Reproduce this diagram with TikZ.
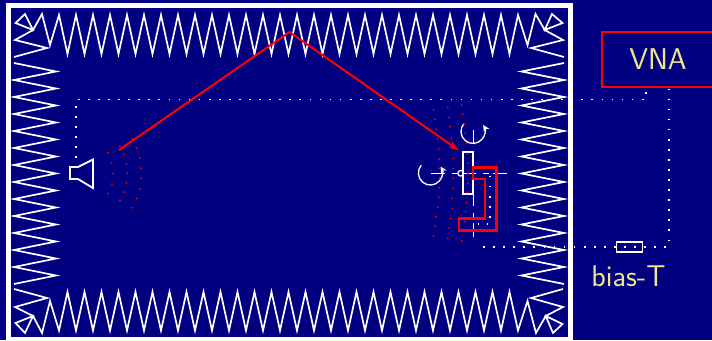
\documentclass[tikz,border=0pt]{standalone}
\usetikzlibrary{arrows.meta}
\definecolor{bgnavy}{HTML}{000080}
\definecolor{lab}{HTML}{F0E68C}
\tikzset{
  zig/.style={draw=white,line width=1.7pt},
  dots/.style={draw=white,line width=1.7pt,dash pattern=on 1.7pt off 8.37pt},
  guide/.style={draw=red,line width=2.4pt},
  ray/.style={draw=red,line width=2pt},
  axisline/.style={draw=white,line width=1.2pt,dash pattern=on 14pt off 7pt on 6pt off 4pt},
  rot/.style={draw=white,line width=1.3pt,-{Stealth[length=6.5pt,width=6.5pt]}},
  wl/.style={font=\fontsize{30}{32}\selectfont\sffamily,text=lab,inner sep=0pt,outer sep=0pt},
  rd/.style={fill=red}
}
\begin{document}
\begin{tikzpicture}[x=1pt,y=-1pt]
\useasboundingbox (0,0) rectangle (712,340);
\clip (0,0) rectangle (712,340);
\fill[bgnavy] (0,0) rectangle (712,340);
% chamber wall
\draw[white,line width=5pt] (8,5.5) rectangle (570,339.5);
% absorbers
\draw[zig] (14,57)--(47,48)--(15,40)--(33,30)--(15.5,23)--(25,14)--(33,30)--(42,14)--(50,45)--(59,15)
  \foreach \k in {0,...,26}{ --({67.5+17*\k},54) --({76+17*\k},15)}
  --(527.5,45)--(535.5,14)--(544.7,30)--(552,14)--(562.5,23)--(544.7,30)--(563,40)--(531,48)--(564,57);
\draw[zig] (14,289)--(47,298)--(15,307)--(33,316)--(15.5,323)--(25,333)--(33,316)--(42,333)--(50,301)
  \foreach \k in {0,...,26}{ --({59+17*\k},330.5) --({67.5+17*\k},292)}
  --(518,330.5)--(527.5,301)--(536,333)--(545.7,316)--(553,333)--(562.5,324)--(545.7,316)--(563,307)--(531,298)--(563,289);
\draw[zig] (14,63) \foreach \k in {0,...,12}{ --(56,{71.5+17*\k}) --(14,{80+17*\k})};
\draw[zig] (564,63) \foreach \k in {0,...,12}{ --(521.5,{71.5+17*\k}) --(564,{80+17*\k})};
% instruments
\node[guide,minimum width=112pt,minimum height=55pt,inner sep=0pt,outer sep=0pt,wl] (vna) at (658,59.5) {VNA};
\node[draw=white,line width=1.6pt,minimum width=26pt,minimum height=9.5pt,inner sep=0pt,outer sep=0pt] (biast) at (629.5,247) {};
\node[wl,anchor=base] (biaslabel) at (628.5,286) {bias-T};
% horn
\coordinate (hornfeed) at (76,158);
\draw[white,line width=1.8pt,line join=miter] (70,167)--(78,167)--(93,159.5)--(93,188)--(78,179)--(70,179)--cycle;
% dotted feed lines
\coordinate (c1) at (76,99.5);
\coordinate (c2) at (646,99.5);
\coordinate (vna1) at (646,88.5);
\coordinate (vna2) at (669,88.5);
\coordinate (c3) at (669,246.7);
\coordinate (c4) at (475,246.7);
\coordinate (g1) at (490,175.7);
\coordinate (g2) at (490,224.3);
\coordinate (g3) at (478,224.3);
\draw[dots] (hornfeed)--(c1)--(c2)--(vna1);
\draw[dots] (vna2)--(c3)--(c4);
\draw[dots] (g1)--(g2)--(g3);
% wavefronts at horn
\foreach \p in {(108,152.7),(111.7,162.7),(113,173.3),(112,184),(108,193.7),
  (120,146),(124,154.3),(126.3,163.7),(127.3,173.3),(126.3,182.7),(124,192),(120,200.7),
  (132.3,139),(136.7,148),(139.7,158),(141,168),(141,178.3),(139.7,188.7),(136.7,198.3),(132.3,207.7)}
  \fill[rd] \p circle[radius=1pt];
% axes of the antenna under test
\coordinate (ax1) at (431,173.3);
\coordinate (ax2) at (507,173.3);
\coordinate (ay1) at (473.3,130);
\coordinate (ay2) at (473.3,241.7);
\draw[axisline] (ax1)--(ax2);
\draw[axisline] (ay1)--(ay2);
\draw[white,line width=1.2pt] (460.7,173.3) circle[radius=2.8pt];
\node[draw=white,line width=1.8pt,minimum width=10pt,minimum height=42pt,inner sep=0pt,outer sep=0pt] (aut) at (467.6,173.3) {};
% rotation arrows
\coordinate (r1) at (463.8,123.7);
\coordinate (r2) at (421.2,165.3);
\draw[rot] (r1) arc[start angle=140,end angle=392,radius=12pt];
\draw[rot] (r2) arc[start angle=140,end angle=392,radius=12pt];
% waveguide
\draw[guide,line join=miter] (472.7,167.3)--(496.3,167.3)--(496.3,230.3)--(458.7,230.3)--(458.7,218.3)--(484.7,218.3)--(484.7,179)--(472.7,179)--cycle;
% wavefronts at antenna
\begin{scope}[shift={(400,90)},x=0.33333pt,y=-0.33333pt]
\foreach \p in {(185,45),(188,72),(192,102),(196,130),(199,160),(201,190),(203,220),(204,250),(203,280),(201,308),(199,338),(197,365),(194,395),(189,425),(185,452),
  (143,52),(147,82),(150,110),(154,145),(157,175),(159,205),(160,235),(160,265),(159,295),(157,325),(155,355),(152,385),(148,415),(143,445),
  (101,60),(105,88),(109,118),(113,147),(116,177),(117,207),(118,235),(118,265),(117,293),(116,322),(113,352),(109,380),(105,408),(101,438)}
  \fill[rd] \p circle[radius=1pt];
\end{scope}
% ray
\coordinate (rayA) at (119,150);
\coordinate (rayB) at (289.5,32);
\coordinate (rayC) at (458.3,150);
\draw[ray,line join=miter,-{Stealth[length=10pt,width=7pt]}] (rayA)--(rayB)--(rayC);
\end{tikzpicture}
\end{document}
